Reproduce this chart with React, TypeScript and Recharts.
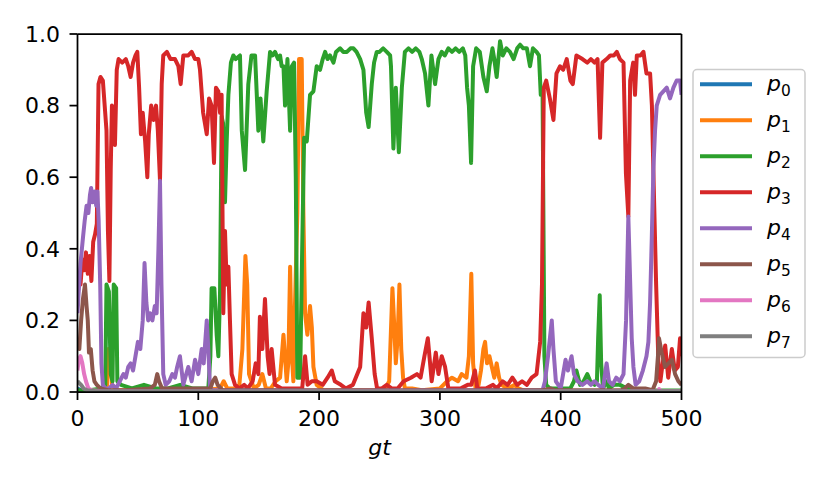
import React from 'react';
import { LineChart, Line, XAxis, YAxis, ReferenceLine } from 'recharts';

type Pt = [number, number];

const p0: Pt[] = [[0,0.01],[3,0.005],[8,0.002],[500,0.001]];

const p1: Pt[] = [[0,0.002],[20,0.002],[24.5,0.02],[25.5,0.12],[27.5,0.12],[28.5,0.02],[32,0.005],[60,0.005],[100,0.005],[118,0.01],[121,0.03],[124,0.01],[130,0.01],[134,0.02],[136.5,0.12],[139,0.38],[140.5,0.30],[142,0.05],[146,0.01],[150,0.02],[153,0.05],[156,0.01],[160,0.01],[164,0.03],[167.7,0.04],[170.5,0.16],[173.2,0.03],[174.5,0.08],[176,0.35],[177.5,0.10],[178.7,0.03],[180,0.24],[182,0.50],[183.4,0.93],[185.6,0.93],[187,0.50],[188.4,0.22],[190.3,0.16],[192.5,0.24],[194,0.18],[195.3,0.07],[198,0.02],[203.6,0.005],[250,0.005],[255,0.01],[258,0.03],[260.7,0.29],[262,0.20],[263.5,0.08],[265,0.15],[266.5,0.30],[268,0.12],[269.5,0.04],[271,0.01],[277,0.01],[285,0.005],[300,0.01],[306,0.03],[310,0.04],[315,0.03],[318,0.05],[322,0.04],[324,0.10],[326,0.33],[327.5,0.08],[329.5,0.01],[332,0.02],[334,0.06],[336,0.12],[337.4,0.14],[339,0.08],[341,0.10],[343,0.07],[345,0.04],[347,0.08],[349,0.04],[351,0.02],[356,0.01],[362,0.02],[365,0.01],[370,0.003],[500,0.002]];

const p2: Pt[] = [[0,0.005],[10,0.005],[20,0.01],[23,0.02],[24,0.30],[26,0.28],[27.5,0.05],[29,0.03],[30,0.30],[32,0.29],[33,0.03],[36,0.02],[45,0.01],[55,0.02],[65,0.01],[75,0.01],[85,0.02],[95,0.01],[105,0.01],[108.3,0.01],[110,0.10],[111,0.29],[113.3,0.29],[115.2,0.16],[116.6,0.10],[118,0.28],[119.3,0.77],[120.5,0.75],[122.1,0.53],[123.5,0.70],[124.9,0.83],[127,0.92],[129,0.94],[131,0.93],[134.5,0.94],[136,0.73],[138.7,0.62],[141.4,0.86],[144,0.94],[147,0.94],[149.7,0.73],[151.5,0.82],[153.8,0.70],[156.6,0.84],[159.4,0.95],[161.5,0.94],[163.5,0.95],[166,0.93],[167.7,0.94],[169,0.91],[170.5,0.91],[171.8,0.80],[173.8,0.93],[176,0.73],[177.4,0.91],[179.3,0.92],[180.7,0.60],[182,0.04],[184.3,0.04],[186,0.40],[187.6,0.71],[189.8,0.70],[192.5,0.83],[195.3,0.84],[198,0.91],[200.8,0.90],[203,0.93],[205,0.95],[207,0.93],[209,0.94],[211.9,0.92],[214,0.95],[217.4,0.96],[220,0.95],[223,0.95],[226,0.96],[228.4,0.96],[231,0.95],[234,0.93],[236.7,0.90],[239,0.78],[241,0.74],[243.6,0.86],[245.5,0.92],[247.7,0.95],[250,0.95],[253,0.96],[256,0.95],[258.8,0.94],[259.5,0.91],[261.5,0.68],[263.5,0.85],[266,0.67],[268.5,0.85],[271,0.95],[274,0.96],[277,0.95],[280,0.96],[283,0.95],[285,0.93],[287.7,0.89],[290.5,0.80],[293,0.94],[296,0.86],[298.8,0.93],[301.5,0.95],[304,0.94],[307,0.96],[310,0.95],[313,0.96],[316,0.95],[319,0.96],[321,0.94],[322.5,0.85],[324,0.80],[325.8,0.64],[327.5,0.91],[330,0.96],[333,0.95],[336,0.88],[338.8,0.84],[341,0.91],[343.5,0.96],[345,0.93],[347,0.88],[349.8,0.98],[352,0.94],[355,0.96],[358,0.95],[361,0.93],[364,0.96],[366.4,0.97],[369,0.96],[372,0.96],[374.6,0.91],[377,0.96],[380,0.95],[382,0.94],[383.5,0.83],[385,0.83],[386.5,0.10],[388,0.02],[391,0.01],[397,0.01],[403,0.01],[408,0.01],[411,0.03],[413,0.06],[416,0.02],[419,0.03],[422,0.05],[424.5,0.03],[428,0.02],[430,0.03],[431,0.15],[432.3,0.27],[433.5,0.08],[435,0.01],[438,0.03],[440,0.01],[444,0.02],[449,0.02],[455,0.01],[465,0.005],[480,0.004],[500,0.004]];

const p3: Pt[] = [[0,0.24],[1,0.33],[2.5,0.30],[4,0.37],[5.5,0.34],[7,0.39],[8.5,0.33],[10,0.38],[11.5,0.31],[13,0.42],[14.5,0.44],[16,0.47],[17.4,0.86],[19,0.88],[21,0.87],[22.5,0.80],[24,0.73],[25.2,0.45],[26.4,0.31],[27.5,0.62],[28.5,0.80],[30,0.76],[31,0.69],[32.5,0.90],[34,0.93],[37,0.92],[40,0.93],[42,0.91],[44,0.88],[46,0.92],[48,0.94],[49.5,0.95],[51,0.85],[52.5,0.72],[54,0.78],[56,0.70],[57.8,0.60],[59,0.72],[61,0.80],[63,0.76],[65,0.80],[66.5,0.73],[68.3,0.59],[69.7,0.86],[71,0.94],[74,0.95],[77,0.93],[80.7,0.93],[83.5,0.91],[85.4,0.86],[87.6,0.94],[91.7,0.94],[94.5,0.95],[97.3,0.93],[100,0.93],[101.4,0.90],[104,0.78],[107,0.72],[108.9,0.82],[111,0.80],[113,0.64],[114.6,0.85],[116.6,0.84],[118,0.78],[119.3,0.83],[120.7,0.22],[122.1,0.45],[123.5,0.30],[124.9,0.35],[126.2,0.20],[127.6,0.05],[130.4,0.02],[134,0.01],[138,0.02],[141,0.01],[145,0.03],[147.5,0.08],[149.7,0.05],[151,0.21],[153,0.12],[155.2,0.26],[157.4,0.10],[159,0.05],[160.7,0.12],[163.5,0.02],[169,0.01],[175,0.01],[182,0.01],[186,0.01],[188.4,0.10],[190.5,0.02],[194,0.03],[198,0.03],[203,0.02],[207,0.04],[210.5,0.06],[213,0.03],[218,0.02],[222,0.01],[228,0.02],[234,0.07],[236.7,0.22],[239,0.18],[241,0.25],[243.6,0.15],[246,0.05],[248,0.01],[252,0.01],[256,0.02],[260,0.01],[265,0.01],[270,0.03],[276,0.04],[281,0.05],[284,0.04],[287.2,0.10],[290,0.15],[293.2,0.03],[296.6,0.11],[298.8,0.05],[301.5,0.10],[304.3,0.07],[307,0.01],[312,0.01],[317,0.01],[323,0.02],[326,0.02],[329,0.06],[331,0.01],[338,0.01],[344,0.02],[347,0.01],[352,0.03],[356,0.02],[360,0.04],[364,0.02],[368,0.03],[372,0.02],[376,0.04],[380,0.05],[383,0.14],[384.5,0.30],[386,0.85],[388,0.87],[391,0.82],[394,0.76],[396.5,0.89],[399.5,0.91],[402,0.90],[405,0.93],[408,0.87],[410,0.86],[413,0.94],[418,0.93],[422,0.92],[425,0.93],[428,0.92],[430.5,0.93],[432.6,0.71],[434.5,0.92],[438,0.93],[441,0.94],[444,0.94],[446.4,0.95],[449,0.93],[452,0.92],[454,0.61],[456,0.49],[457.5,0.87],[460,0.92],[461.5,0.83],[463,0.94],[466,0.94],[468.5,0.95],[471,0.89],[474,0.89],[475.5,0.80],[476.7,0.62],[479,0.30],[481,0.07],[482.5,0.03],[484,0.07],[486.5,0.13],[489,0.04],[492,0.12],[494.5,0.06],[497,0.07],[498.8,0.15],[500,0.10]];

const p4: Pt[] = [[0,0.22],[1,0.28],[2.5,0.36],[4.5,0.43],[6,0.48],[7.5,0.52],[9,0.50],[10.3,0.55],[11.3,0.57],[12.5,0.53],[14,0.56],[15.5,0.52],[16.5,0.56],[17.5,0.48],[18.8,0.30],[19.8,0.08],[21,0.02],[23,0.01],[26,0.01],[29,0.02],[32,0.01],[35,0.03],[38,0.05],[40,0.04],[42,0.07],[44,0.08],[46,0.06],[48,0.10],[50,0.14],[52,0.12],[54,0.20],[55.5,0.36],[57,0.25],[58.5,0.20],[60,0.22],[62,0.20],[64,0.24],[65.5,0.22],[67,0.40],[68.3,0.59],[69.5,0.30],[71,0.05],[73,0.02],[76,0.03],[78.5,0.05],[80.7,0.04],[82.5,0.07],[84.8,0.10],[87.6,0.02],[90,0.05],[91.7,0.07],[94.5,0.03],[97.3,0.09],[100,0.05],[102.8,0.12],[104.5,0.08],[107,0.20],[108.3,0.12],[109.7,0.01],[112,0.005],[200,0.004],[300,0.005],[385,0.005],[387,0.03],[389.5,0.10],[392.6,0.20],[394,0.12],[396,0.03],[398,0.02],[400,0.01],[402,0.05],[404,0.09],[406,0.06],[409,0.10],[411,0.05],[414,0.03],[418,0.02],[422,0.03],[425,0.02],[428,0.03],[431,0.02],[435,0.01],[438,0.08],[440,0.03],[443,0.02],[446,0.04],[449,0.03],[452,0.05],[454.1,0.20],[456,0.49],[458.8,0.15],[460.2,0.07],[462,0.02],[465,0.03],[468,0.06],[471,0.10],[472.6,0.14],[474,0.25],[475.4,0.43],[476.7,0.62],[478.1,0.73],[479.5,0.80],[482.3,0.83],[485,0.84],[487.8,0.85],[490.5,0.82],[493.3,0.85],[496,0.87],[498.8,0.87],[500,0.83]];

const p5: Pt[] = [[0,0.15],[1.5,0.12],[3,0.20],[4.5,0.26],[6.2,0.30],[7.5,0.24],[8.5,0.20],[9.5,0.11],[11,0.12],[12.5,0.06],[14,0.03],[16,0.02],[19,0.01],[25,0.005],[40,0.005],[60,0.01],[64,0.02],[66,0.05],[67.5,0.03],[70,0.01],[80,0.01],[100,0.01],[110,0.01],[112,0.03],[114,0.04],[116,0.02],[120,0.005],[300,0.004],[385,0.005],[392,0.01],[395,0.005],[450,0.005],[453,0.01],[456,0.02],[460,0.01],[470,0.01],[476,0.005],[479,0.03],[480.5,0.10],[481.4,0.15],[483.6,0.11],[486.4,0.07],[489.2,0.08],[492,0.09],[494.7,0.05],[497.4,0.03],[500,0.02]];

const p6: Pt[] = [[0,0.06],[1,0.09],[2.5,0.10],[4,0.08],[5.5,0.05],[7,0.03],[9,0.01],[12,0.005],[20,0.002],[480,0.002],[481.5,0.008],[483,0.002],[500,0.002]];

const p7: Pt[] = [[0,0.03],[1.5,0.025],[3,0.02],[5,0.01],[8,0.005],[15,0.002],[500,0.002]];

const seriesNames = ['0', '1', '2', '3', '4', '5', '6', '7'];
const seriesPoints = [p0, p1, p2, p3, p4, p5, p6, p7];
const colors = ['#1f77b4', '#ff7f0e', '#2ca02c', '#d62728', '#9467bd', '#8c564b', '#e377c2', '#7f7f7f'];
const xTicks = [0, 100, 200, 300, 400, 500];
const yTicks = [0, 0.2, 0.4, 0.6, 0.8, 1.0];

const W = 814;
const H = 482;
const FONT = 'DejaVu Sans';
const FS = 22;
const LW = 4;

const toRows = (pts: Pt[]) => pts.map(([gt, v]) => ({ gt, v }));

function LegendBox() {
  const boxX = 685, boxY = 61.5, boxW = 112, boxH = 288;
  return (
    <svg width={W} height={H} style={{ position: 'absolute', left: 0, top: 0, pointerEvents: 'none' }}>
      <rect x={boxX} y={boxY} width={boxW} height={boxH} rx={4} ry={4} fill="rgba(255,255,255,0.8)" stroke="#cccccc" strokeWidth={1.5} />
      {seriesNames.map((n, i) => {
        const cy = 76.3 + 36 * i;
        return (
          <g key={n}>
            <line x1={694} x2={742} y1={cy} y2={cy} stroke={colors[i]} strokeWidth={LW} strokeLinecap="square" />
            <text x={759} y={cy + 7} fontFamily={FONT} fontSize={FS} fontStyle="italic" fill="#000">
              p<tspan fontStyle="normal" fontSize={15.4} dy={5}>{n}</tspan>
            </text>
          </g>
        );
      })}
    </svg>
  );
}

export default function App() {
  const tickStyle = { fill: '#000', fontSize: FS, fontFamily: FONT };
  const axisStroke = { stroke: '#000', strokeWidth: 1.75 };
  return (
    <div style={{ position: 'relative', width: W, height: H }}>
      <LineChart width={W} height={H} margin={{ top: 26, right: 140.5, left: 0, bottom: 35 }}>
        <XAxis
          xAxisId="x"
          dataKey="gt"
          type="number"
          domain={[0, 500]}
          ticks={xTicks}
          allowDataOverflow
          height={63}
          tickSize={8}
          tickMargin={10}
          tick={tickStyle}
          tickLine={axisStroke}
          axisLine={axisStroke}
          label={{ value: 'gt', position: 'insideBottom', offset: 0, style: { fontStyle: 'italic', fontSize: FS, fontFamily: FONT, fill: '#000' } }}
        />
        <YAxis
          yAxisId="y"
          type="number"
          domain={[0, 1]}
          ticks={yTicks}
          allowDataOverflow
          width={69.5}
          tickSize={8}
          tickMargin={9.5}
          tick={tickStyle}
          tickFormatter={(v: number) => v.toFixed(1)}
          tickLine={axisStroke}
          axisLine={axisStroke}
        />
        {seriesPoints.map((pts, i) => (
          <Line
            key={seriesNames[i]}
            xAxisId="x"
            yAxisId="y"
            data={toRows(pts)}
            dataKey="v"
            name={'p' + seriesNames[i]}
            type="linear"
            stroke={colors[i]}
            strokeWidth={LW}
            strokeLinejoin="round"
            dot={false}
            activeDot={false}
            isAnimationActive={false}
          />
        ))}
        <ReferenceLine xAxisId="x" yAxisId="y" y={1} stroke="#000" strokeWidth={1.75} ifOverflow="visible" />
        <ReferenceLine xAxisId="x" yAxisId="y" x={500} stroke="#000" strokeWidth={1.75} ifOverflow="visible" />
      </LineChart>
      <LegendBox />
    </div>
  );
}
